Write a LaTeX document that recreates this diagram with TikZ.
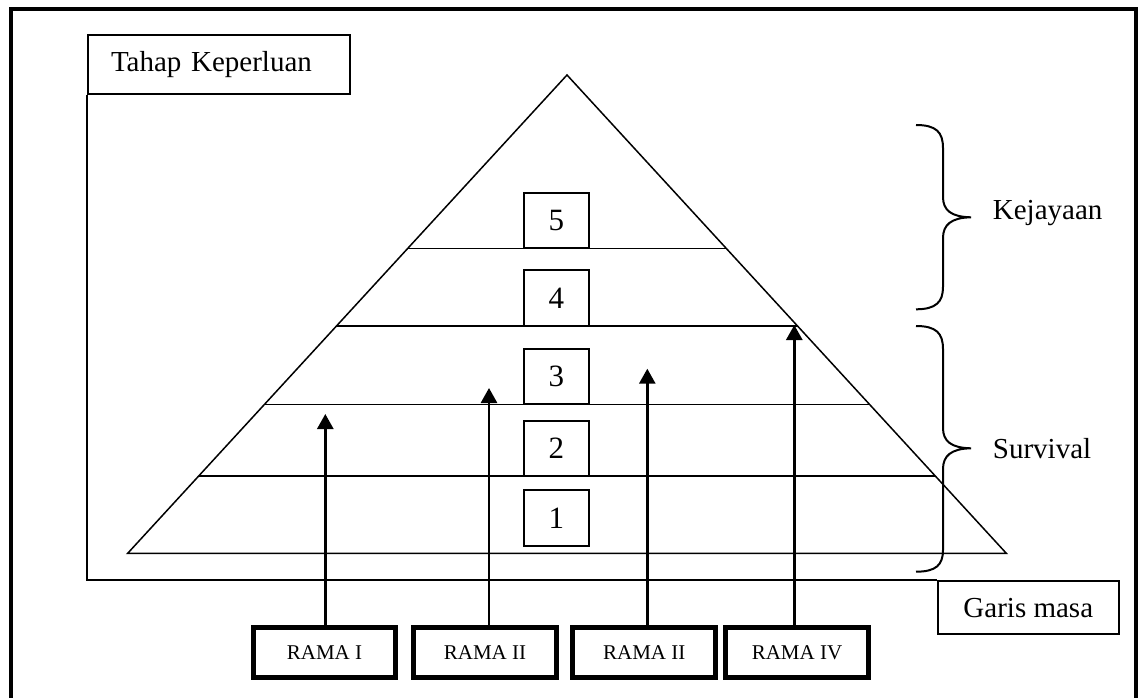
\documentclass[tikz,border=0pt]{standalone}
\usepackage{fontspec}
\setmainfont{Liberation Serif}
\usetikzlibrary{arrows.meta}
\begin{document}
\begin{tikzpicture}[x=1pt,y=-1pt,
  thinline/.style={line width=1.5pt},
  lbl/.style={draw, line width=2pt, inner sep=0pt, font=\fontsize{29}{34}\selectfont},
  numbox/.style={draw, line width=2pt, fill=white, minimum width=64.7pt, minimum height=55.6pt, inner sep=0pt, font=\fontsize{31}{36}\selectfont},
  ramabox/.style={draw, line width=5pt, minimum width=142.6pt, minimum height=50.3pt, inner sep=0pt, font=\fontsize{21}{25}\selectfont},
  uparrow/.style={line width=2.7pt, -{Triangle[width=16pt,length=15pt]}},
  bracepen/.style={line width=2pt},
  side/.style={anchor=base west, inner sep=0pt, font=\fontsize{29}{34}\selectfont}]
\useasboundingbox (0,0) rectangle (1141,698);
% outer frame
\draw[line width=4pt] (11,8.7) rectangle (1136,699.5);

% axis labels
\node[lbl, minimum height=59pt, inner xsep=23pt, text width=216pt, align=left] (tahap) at (219,64.5) {Tahap Keperluan};
\node[lbl, minimum width=181pt, minimum height=52.3pt] (garis) at (1028.3,607.6) {Garis masa};
\draw[line width=2pt] (tahap.south west) |- (garis.north west);

% pyramid
\coordinate (apex) at (567,75);
\coordinate (bl) at (127.7,553.3);
\coordinate (br) at (1006.3,553.3);
\draw[thinline, line join=miter] (bl) -- (apex) -- (br) -- cycle;
\draw[thinline] (407.8,248.3) -- (726.2,248.3);
\draw[thinline] (336.5,326) -- (797.5,326);
\draw[thinline] (264.5,404.3) -- (869.5,404.3);
\draw[thinline] (198.7,476) -- (935.3,476);

% level boxes
\node[numbox] (n5) at (556.3,220.5) {5};
\node[numbox] (n4) at (556.3,298.2) {4};
\node[numbox] (n3) at (556.3,376.5) {3};
\node[numbox] (n2) at (556.3,448.3) {2};
\node[numbox] (n1) at (556.3,517.9) {1};

% braces
\draw[bracepen] (916,125) .. controls (936,125) and (943,132) .. (943,148) -- (943,197)
  .. controls (943,210) and (951,217) .. (971,217.3)
  .. controls (951,217.6) and (943,225) .. (943,238) -- (943,287)
  .. controls (943,302) and (936,309.3) .. (916,309.3);
\draw[bracepen] (916,326) .. controls (936,326) and (943,333) .. (943,349) -- (943,428)
  .. controls (943,441) and (951,448) .. (971,448.3)
  .. controls (951,448.6) and (943,456) .. (943,469) -- (943,550)
  .. controls (943,565) and (936,571.7) .. (916,571.7);
\node[side] (kej) at (992.7,219.3) {Kejayaan};
\node[side] (surv) at (992.7,458.3) {Survival};

% rama boxes
\node[ramabox] (r1) at (324.5,652.3) {RAMA I};
\node[ramabox] (r2) at (485,652.3) {RAMA II};
\node[ramabox] (r3) at (644.2,652.3) {RAMA II};
\node[ramabox] (r4) at (797,652.3) {RAMA IV};

% arrows
\coordinate (t1) at (325.3,414);
\coordinate (t2) at (489,388);
\coordinate (t3) at (647.3,368.7);
\coordinate (t4) at (794.3,325);
\draw[uparrow] (r1.north -| t1) -- (t1);
\draw[uparrow] (r2.north -| t2) -- (t2);
\draw[uparrow] (r3.north -| t3) -- (t3);
\draw[uparrow] (r4.north -| t4) -- (t4);
\end{tikzpicture}
\end{document}
